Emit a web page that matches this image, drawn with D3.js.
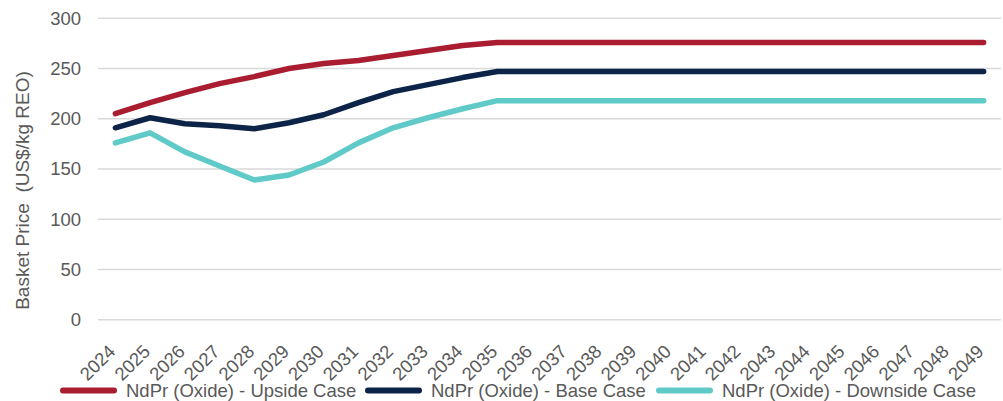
<!DOCTYPE html>
<html>
<head>
<meta charset="utf-8">
<script src="https://cdn.jsdelivr.net/npm/d3@7"></script>
<style>
  body { margin: 0; background: #fff; }
  svg text { font-family: "Liberation Sans", Arial, sans-serif; fill: #595959; }
</style>
</head>
<body>
<svg id="chart" width="1003" height="401"></svg>
<script>
// years on the x axis
const years = ["2024","2025","2026","2027","2028","2029","2030","2031","2032","2033","2034","2035","2036",
  "2037","2038","2039","2040","2041","2042","2043","2044","2045","2046","2047","2048","2049"];

// basket price, US$/kg REO
const upside   = [205, 216, 226, 235, 242, 250, 255, 258, 263, 268, 273, 276, 276, 276, 276, 276, 276, 276, 276, 276, 276, 276, 276, 276, 276, 276];
const base     = [191, 201, 195, 193, 190, 196, 204, 216, 227, 234, 241, 247, 247, 247, 247, 247, 247, 247, 247, 247, 247, 247, 247, 247, 247, 247];
const downside = [176, 186, 167, 153, 139, 144, 157, 176, 191, 201, 210, 218, 218, 218, 218, 218, 218, 218, 218, 218, 218, 218, 218, 218, 218, 218];

const yTicks = [0, 50, 100, 150, 200, 250, 300];

const series = [
  { name: "NdPr (Oxide) - Upside Case", values: upside, color: "#aa1c2f" },
  { name: "NdPr (Oxide) - Base Case", values: base, color: "#0c2448" },
  { name: "NdPr (Oxide) - Downside Case", values: downside, color: "#5fcac7" }
];

const margin = { left: 98, right: 2, top: 18.3, bottom: 81.3 };
const width = 1003, height = 401;
const fontSize = "18.5px";

const svg = d3.select("#chart");

const x = d3.scaleBand()
    .domain(years)
    .range([margin.left, width - margin.right]);

const y = d3.scaleLinear()
    .domain([0, 300])
    .range([height - margin.bottom, margin.top]);

// gridlines
svg.append("g")
    .selectAll("line")
    .data(yTicks)
    .enter()
    .append("line")
    .attr("x1", margin.left)
    .attr("x2", width - margin.right)
    .attr("y1", d => y(d))
    .attr("y2", d => y(d))
    .attr("stroke", "#d9d9d9")
    .attr("stroke-width", 1.5);

// y tick labels
svg.append("g")
    .selectAll("text")
    .data(yTicks)
    .enter()
    .append("text")
    .attr("x", 81)
    .attr("y", d => y(d))
    .attr("dy", "0.35em")
    .attr("text-anchor", "end")
    .style("font-size", fontSize)
    .text(d => d);

// y axis title (sits a bit below the plot's middle in the original)
svg.append("text")
    .attr("transform", "translate(29,190.5) rotate(-90)")
    .attr("text-anchor", "middle")
    .style("font-size", "19px")
    .style("white-space", "pre")
    .text("Basket Price  (US$/kg REO)");

// x tick labels, rotated
svg.append("g")
    .selectAll("text")
    .data(years)
    .enter()
    .append("text")
    .attr("transform", d => `translate(${x(d) + x.bandwidth() / 2 - 8},343.5) rotate(-45)`)
    .attr("text-anchor", "end")
    .attr("dy", "0.7em")
    .style("font-size", fontSize)
    .text(d => d);

// lines
const line = d3.line()
    .x((d, i) => x(years[i]) + x.bandwidth() / 2)
    .y(d => y(d));

svg.append("g")
    .selectAll("path")
    .data(series)
    .enter()
    .append("path")
    .attr("d", d => line(d.values))
    .attr("fill", "none")
    .attr("stroke", d => d.color)
    .attr("stroke-width", 5.5)
    .attr("stroke-linejoin", "round")
    .attr("stroke-linecap", "round");

// legend
const legendX = [63, 368, 659];
const legend = svg.append("g")
    .selectAll("g")
    .data(series)
    .enter()
    .append("g")
    .attr("transform", (d, i) => `translate(${legendX[i]},390.5)`);

legend.append("line")
    .attr("x1", 0)
    .attr("x2", 51)
    .attr("stroke", d => d.color)
    .attr("stroke-width", 6)
    .attr("stroke-linecap", "round");

legend.append("text")
    .attr("x", 63)
    .attr("dy", "0.35em")
    .style("font-size", fontSize)
    .text(d => d.name);
</script>
</body>
</html>
